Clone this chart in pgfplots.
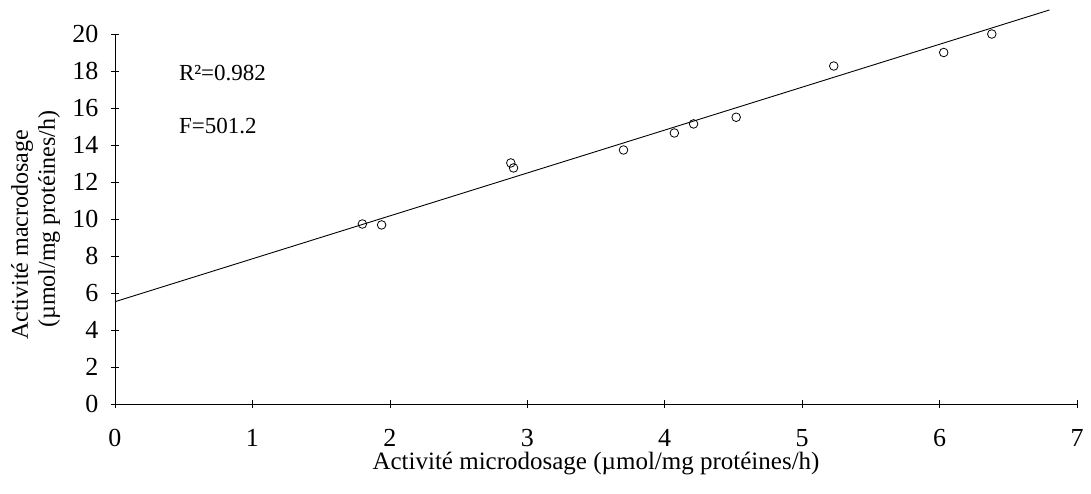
\documentclass[border=0pt]{standalone}
\usepackage{pgfplots}
\pgfplotsset{compat=1.18}
\usepackage{fontspec}
\setmainfont{Liberation Serif}
\begin{document}
\begin{tikzpicture}
\begin{axis}[
    at={(0pt,0pt)}, anchor=origin,
    scale only axis,
    width=962pt, height=370pt,
    xmin=0, xmax=7, ymin=0, ymax=20,
    axis lines*=left,
    axis line style={black, line width=0.9pt},
    xtick={0,1,...,7},
    ytick={0,2,...,20},
    tick align=center,
    major tick length=8pt,
    tick style={black, line width=0.7pt},
    tick label style={font=\fontsize{26}{28}\selectfont},
    /pgf/number format/assume math mode=true,
    xticklabel style={yshift=-18pt},
    yticklabel style={xshift=-9pt},
    clip=false,
]
% regression line
\addplot[black, line width=0.9pt] coordinates {(0,5.53) (6.80,21.3)};
% data points
\addplot[only marks, mark=o, mark size=4.3pt, black, mark options={line width=0.8pt}] coordinates {
    (1.80,9.73) (1.94,9.68) (2.88,13.03) (2.90,12.76) (3.70,13.73)
    (4.07,14.65) (4.21,15.14) (4.52,15.50) (5.23,18.27) (6.03,19.00) (6.38,20.00)
};
\node[anchor=west, font=\fontsize{23}{26}\selectfont] at (axis cs:0.44,17.9) {R²=0.982};
\node[anchor=west, font=\fontsize{23}{26}\selectfont] at (axis cs:0.44,15.0) {F=501.2};
\end{axis}
\node[font=\fontsize{25}{28}\selectfont] at (481pt,-60pt) {Activité microdosage (µmol/mg protéines/h)};
\node[rotate=90, font=\fontsize{24}{26}\selectfont] at (-93pt,169pt) {Activité macrodosage};
\node[rotate=90, font=\fontsize{24}{26}\selectfont] at (-66pt,185pt) {(µmol/mg protéines/h)};
\pgfresetboundingbox
\path[use as bounding box] (-115pt,-89pt) rectangle (976pt,404pt);
\end{tikzpicture}
\end{document}
